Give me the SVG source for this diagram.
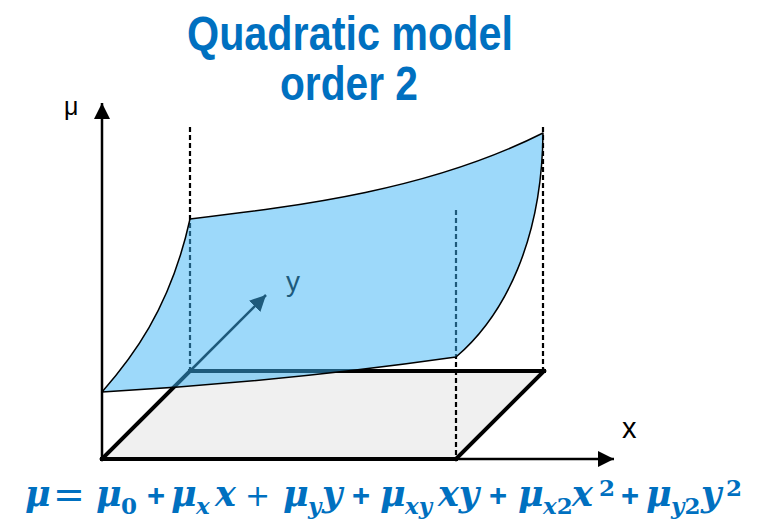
<svg xmlns="http://www.w3.org/2000/svg" width="769" height="521" viewBox="0 0 769 521">
<defs>
<style>
.title{font-family:"Liberation Sans",Arial,sans-serif;font-weight:bold;font-size:48px;fill:#0070C0}
.lbl{font-family:"Liberation Sans",Arial,sans-serif;fill:#000}
.dash{stroke:#000;stroke-width:2.2;stroke-dasharray:5 3;fill:none}
.edge{stroke:#000;stroke-width:4;fill:none;stroke-linecap:square}
.axis{stroke:#000;stroke-width:2.5;fill:none}
.eq{font-family:"DejaVu Serif",serif;font-weight:bold;font-style:italic;font-size:35px;fill:#0070C0}
.sub{font-size:23px}
.up{font-style:normal}
.plus{font-family:"Liberation Sans",Arial,sans-serif;font-weight:bold;font-style:normal;font-size:31px}
.thin{font-family:"DejaVu Sans",sans-serif;font-weight:normal;font-style:normal}
</style>
<marker id="arr" viewBox="0 0 10 10" refX="10" refY="5" markerWidth="16" markerHeight="16" markerUnits="userSpaceOnUse" orient="auto">
<path d="M0,0 L10,5 L0,10 z" fill="#000"/>
</marker>
</defs>
<rect width="769" height="521" fill="#fff"/>

<g id="title">
<text class="title" x="187" y="50" textLength="326" lengthAdjust="spacingAndGlyphs">Quadratic model</text>
<text class="title" x="280" y="100" textLength="138" lengthAdjust="spacingAndGlyphs">order 2</text>
</g>

<g id="floor">
<polygon points="102,459 456,459 544,371 190,371" fill="#f0f0f0"/>
</g>

<g id="connectors">
<line class="dash" x1="190" y1="127" x2="190" y2="371"/>
<line class="dash" x1="456" y1="210" x2="456" y2="459"/>
<line class="dash" x1="543" y1="127" x2="543" y2="371"/>
<line class="edge" x1="190" y1="371" x2="544" y2="371"/>
<line class="edge" x1="456" y1="459" x2="544" y2="371"/>
<line class="edge" x1="102" y1="459" x2="190" y2="371"/>
<line class="edge" x1="102" y1="459" x2="456" y2="459"/>
<line class="axis" x1="102" y1="459" x2="102" y2="103" marker-end="url(#arr)"/>
<line class="axis" x1="456" y1="459" x2="614" y2="459" marker-end="url(#arr)"/>
<line class="axis" x1="190" y1="371" x2="266" y2="295" marker-end="url(#arr)"/>
</g>

<g id="labels">
<text class="lbl" x="64" y="115" font-size="25">μ</text>
<text class="lbl" x="286" y="291" font-size="28">y</text>
<text class="lbl" x="622" y="438" font-size="29">x</text>
</g>

<g id="surface">
<path d="M102,392 C130,360 170,310 190,219 C300,206 430,190 543,133 C542,240 505,315 456,357 Q280,382 102,392 Z" fill="rgb(60,180,245)" fill-opacity="0.5" stroke="#000" stroke-width="1.5" stroke-linejoin="round"/>
</g>

<g id="equation">
<text class="eq" y="506"><tspan x="25">μ</tspan><tspan class="thin" x="53" y="507" font-size="38">=</tspan><tspan x="96" y="506">μ</tspan><tspan class="sub up" x="121" y="514">0</tspan><tspan class="plus" x="147" y="506">+</tspan><tspan x="171">μ</tspan><tspan class="sub" x="196" y="514">x</tspan><tspan x="215" y="506">x</tspan><tspan class="thin" x="245" font-size="30">+</tspan><tspan x="283">μ</tspan><tspan class="sub" x="308" y="514">y</tspan><tspan x="322" y="506">y</tspan><tspan class="plus" x="352">+</tspan><tspan x="380">μ</tspan><tspan class="sub" x="405" y="514">xy</tspan><tspan x="438" y="506">xy</tspan><tspan class="plus" x="489">+</tspan><tspan x="518">μ</tspan><tspan class="sub" x="543" y="514">x</tspan><tspan class="sub up">2</tspan><tspan x="572" y="506">x</tspan><tspan class="sub up" x="599" y="496">2</tspan><tspan class="plus" x="621" y="506">+</tspan><tspan x="646">μ</tspan><tspan class="sub" x="671" y="514">y</tspan><tspan class="sub up">2</tspan><tspan x="701" y="506">y</tspan><tspan class="sub up" x="726" y="496">2</tspan></text>
</g>
</svg>
